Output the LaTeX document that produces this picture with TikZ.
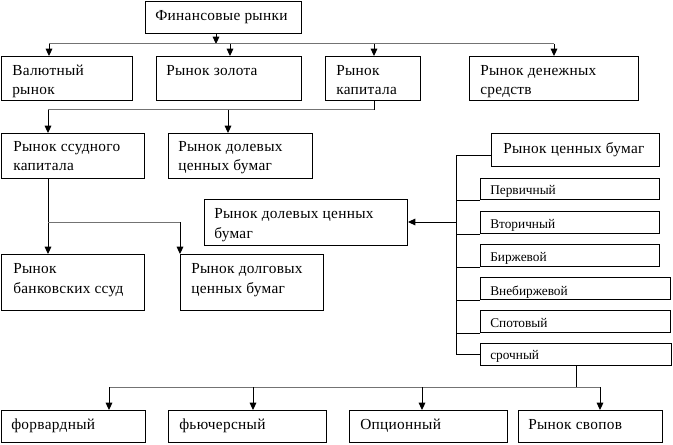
\documentclass[tikz,border=0pt]{standalone}
\usepackage{fontspec}
\setmainfont{Liberation Serif}
\newfontfamily\widefont[LetterSpace=2]{Liberation Serif}
\usetikzlibrary{arrows.meta}
\tikzset{
  box/.style={draw=black, line width=0.75pt, inner sep=0pt, anchor=north west},
  txt/.style={inner sep=0pt, anchor=base west, align=left, font=\widefont\fontsize{11.5}{14.5}\selectfont},
  stxt/.style={inner sep=0pt, anchor=base west, font=\fontsize{10}{12}\selectfont},
  conn/.style={draw=black, line width=0.75pt},
  hconn/.style={draw=black!55, line width=0.75pt},
  arr/.style={conn, -{Triangle[length=5.5pt,width=5pt]}}
}
\newcommand{\mkbox}[5]{% name, x1, y1, x2, y2
  \node[box, minimum width={(#4-#2)*0.75pt}, minimum height={(#5-#3)*0.75pt}] (#1) at (#2,#3) {};}
\begin{document}
\begin{tikzpicture}[x=0.75pt,y=-0.75pt]
\useasboundingbox (0,0) rectangle (673,445);
% boxes
\mkbox{fin}{145}{1}{301}{33}
\mkbox{val}{1}{56}{132}{100}
\mkbox{gold}{156}{56}{301}{100}
\mkbox{cap}{325}{56}{420}{100}
\mkbox{money}{469}{56}{638}{100}
\mkbox{loan}{1}{133}{144}{178}
\mkbox{eqa}{168}{133}{312}{178}
\mkbox{bank}{1}{254}{144}{310}
\mkbox{debt}{180}{254}{323}{310}
\mkbox{sec}{491}{133}{659}{166}
\mkbox{eqb}{204}{199}{407}{245}
\mkbox{perv}{480}{178}{659}{199}
\mkbox{vtor}{480}{211}{659}{233}
\mkbox{birzh}{480}{244}{659}{266}
\mkbox{vneb}{480}{277}{670}{299}
\mkbox{spot}{480}{310}{670}{332}
\mkbox{sroch}{480}{343}{671}{365}
\mkbox{fwd}{1}{410}{145}{442}
\mkbox{fut}{168}{410}{326}{442}
\mkbox{opt}{349}{410}{507}{442}
\mkbox{swap}{518}{410}{662}{442}
% texts (base anchor = baseline of last line)
\node[txt] (fin-t) at (155,21) {Финансовые рынки};
\node[txt] (val-t) at (12,95) {Валютный\\рынок};
\node[txt] (gold-t) at (166,76) {Рынок золота};
\node[txt] (cap-t) at (336,95) {Рынок\\капитала};
\node[txt] (money-t) at (480,95) {Рынок денежных\\средств};
\node[txt] (loan-t) at (13,171) {Рынок ссудного\\капитала};
\node[txt] (eqa-t) at (178,171) {Рынок долевых\\ценных бумаг};
\node[txt] (eqb-t) at (214,238) {Рынок долевых ценных\\бумаг};
\node[txt] (bank-t) at (13,293) {Рынок\\банковских ссуд};
\node[txt] (debt-t) at (191,293) {Рынок долговых\\ценных бумаг};
\node[txt] (sec-t) at (503,154) {Рынок ценных бумаг};
\node[stxt] (perv-t) at (490,195) {Первичный};
\node[stxt] (vtor-t) at (490,228) {Вторичный};
\node[stxt] (birzh-t) at (490,261) {Биржевой};
\node[stxt] (vneb-t) at (490,295) {Внебиржевой};
\node[stxt] (spot-t) at (490,327) {Спотовый};
\node[stxt] (sroch-t) at (490,359) {срочный};
\node[txt] (fwd-t) at (11,429) {форвардный};
\node[txt] (fut-t) at (179,429) {фьючерсный};
\node[txt] (opt-t) at (360,429) {Опционный};
\node[txt] (swap-t) at (528,429) {Рынок свопов};
% coordinates
\coordinate (busL) at (49,44);
\coordinate (busR) at (554,44);
\coordinate (j1) at (216,44);
\coordinate (c1) at (374,110);
\coordinate (c1L) at (48,110);
\coordinate (c1m) at (228,110);
\coordinate (br) at (48,222);
\coordinate (brR) at (180,222);
\coordinate (vtop) at (456,156);
\coordinate (vmid) at (456,222);
\coordinate (vbot) at (456,354);
\coordinate (b2) at (576,387);
\coordinate (b2L) at (109,387);
\coordinate (b2R) at (600,387);
% top level
\draw[arr] (fin.south -| j1) -- (j1);
\draw[hconn] (busL) -- (busR);
\draw[arr] (busL) -- (busL |- val.north);
\draw[arr] (230,44) -- (230,56) coordinate (goldin);
\draw[arr] (374,44) -- (cap.north -| c1);
\draw[arr] (busR) -- (busR |- money.north);
% capital
\draw[conn] (cap.south -| c1) -- (c1);
\draw[hconn] (c1) -- (c1L);
\draw[arr] (c1L) -- (c1L |- loan.north);
\draw[arr] (c1m) -- (c1m |- eqa.north);
\draw[arr] (loan.south -| br) -- (br |- bank.north);
\draw[hconn] (br) -- (brR);
\draw[arr] (brR) -- (brR |- debt.north);
% securities
\draw[conn] (sec.west |- vtop) -- (vtop) -- (vbot) -- (vbot -| sroch.west);
\draw[arr] (vmid) -- (vmid -| eqb.east);
\draw[conn] (perv.south west -| vtop) -- (perv.south west);
\draw[conn] (vtor.south west -| vtop) -- (vtor.south west);
\draw[conn] (birzh.south west -| vtop) -- (birzh.south west);
\draw[conn] (vneb.south west -| vtop) -- (vneb.south west);
\draw[conn] (spot.south west -| vtop) -- (spot.south west);
% derivatives
\draw[conn] (sroch.south -| b2) -- (b2);
\draw[hconn] (b2L) -- (b2R);
\draw[arr] (b2L) -- (b2L |- fwd.north);
\draw[arr] (253,387) -- (253,410);
\draw[arr] (422,387) -- (422,410);
\draw[arr] (b2R) -- (b2R |- swap.north);
\end{tikzpicture}
\end{document}
